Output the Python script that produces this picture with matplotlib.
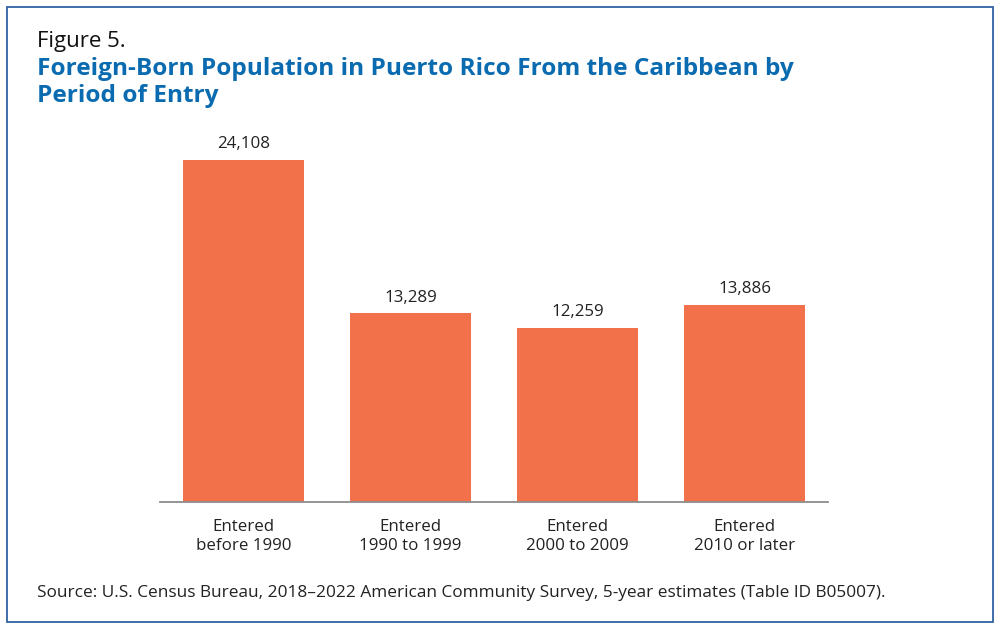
import matplotlib
matplotlib.use("Agg")
import matplotlib.pyplot as plt
from matplotlib.patches import Rectangle

categories = ["Entered\nbefore 1990", "Entered\n1990 to 1999", "Entered\n2000 to 2009", "Entered\n2010 or later"]
values = [24108, 13289, 12259, 13886]
value_labels = ["24,108", "13,289", "12,259", "13,886"]

plt.rcParams['font.family'] = ['Open Sans', 'DejaVu Sans']

fig = plt.figure(figsize=(10, 6.29), dpi=100)
fig.patch.set_facecolor("white")

# outer frame
fig.add_artist(Rectangle((0.007, 0.011), 0.986, 0.978, transform=fig.transFigure,
                         fill=False, edgecolor="#2e62a3", linewidth=1.3))

ax = fig.add_axes([0.16, 0.2019, 0.668, 0.5867])
x = list(range(len(categories)))
ax.bar(x, values, width=0.72, color="#f2714a")
ax.set_xlim(-0.5, 3.5)
ax.set_ylim(0, 26000)
for xi, v, lab in zip(x, values, value_labels):
    ax.annotate(lab, (xi, v), xytext=(0, 5.5), textcoords="offset points",
                ha="center", va="bottom", fontsize=12.2, color="#222222")

ax.set_xticks(x)
ax.set_xticklabels(categories, fontsize=12.2, color="#222222", linespacing=1.25)
ax.tick_params(axis="x", length=0, pad=12.5)
ax.set_yticks([])
for s in ["top", "right", "left"]:
    ax.spines[s].set_visible(False)
ax.spines["bottom"].set_color("#8c8c8c")
ax.spines["bottom"].set_linewidth(1.3)

fig.text(0.037, 0.934, "Figure 5.", fontsize=16, color="#111111", va="center", ha="left")
fig.text(0.037, 0.9095, "Foreign-Born Population in Puerto Rico From the Caribbean by\nPeriod of Entry",
         fontsize=17.6, fontweight="bold", color="#0a6bb0", va="top", ha="left", linespacing=1.15)
fig.text(0.037, 0.057, "Source: U.S. Census Bureau, 2018\u20132022 American Community Survey, 5-year estimates (Table ID B05007).",
         fontsize=12.4, color="#222222", va="center", ha="left")

fig.savefig("out.png", dpi=100)
